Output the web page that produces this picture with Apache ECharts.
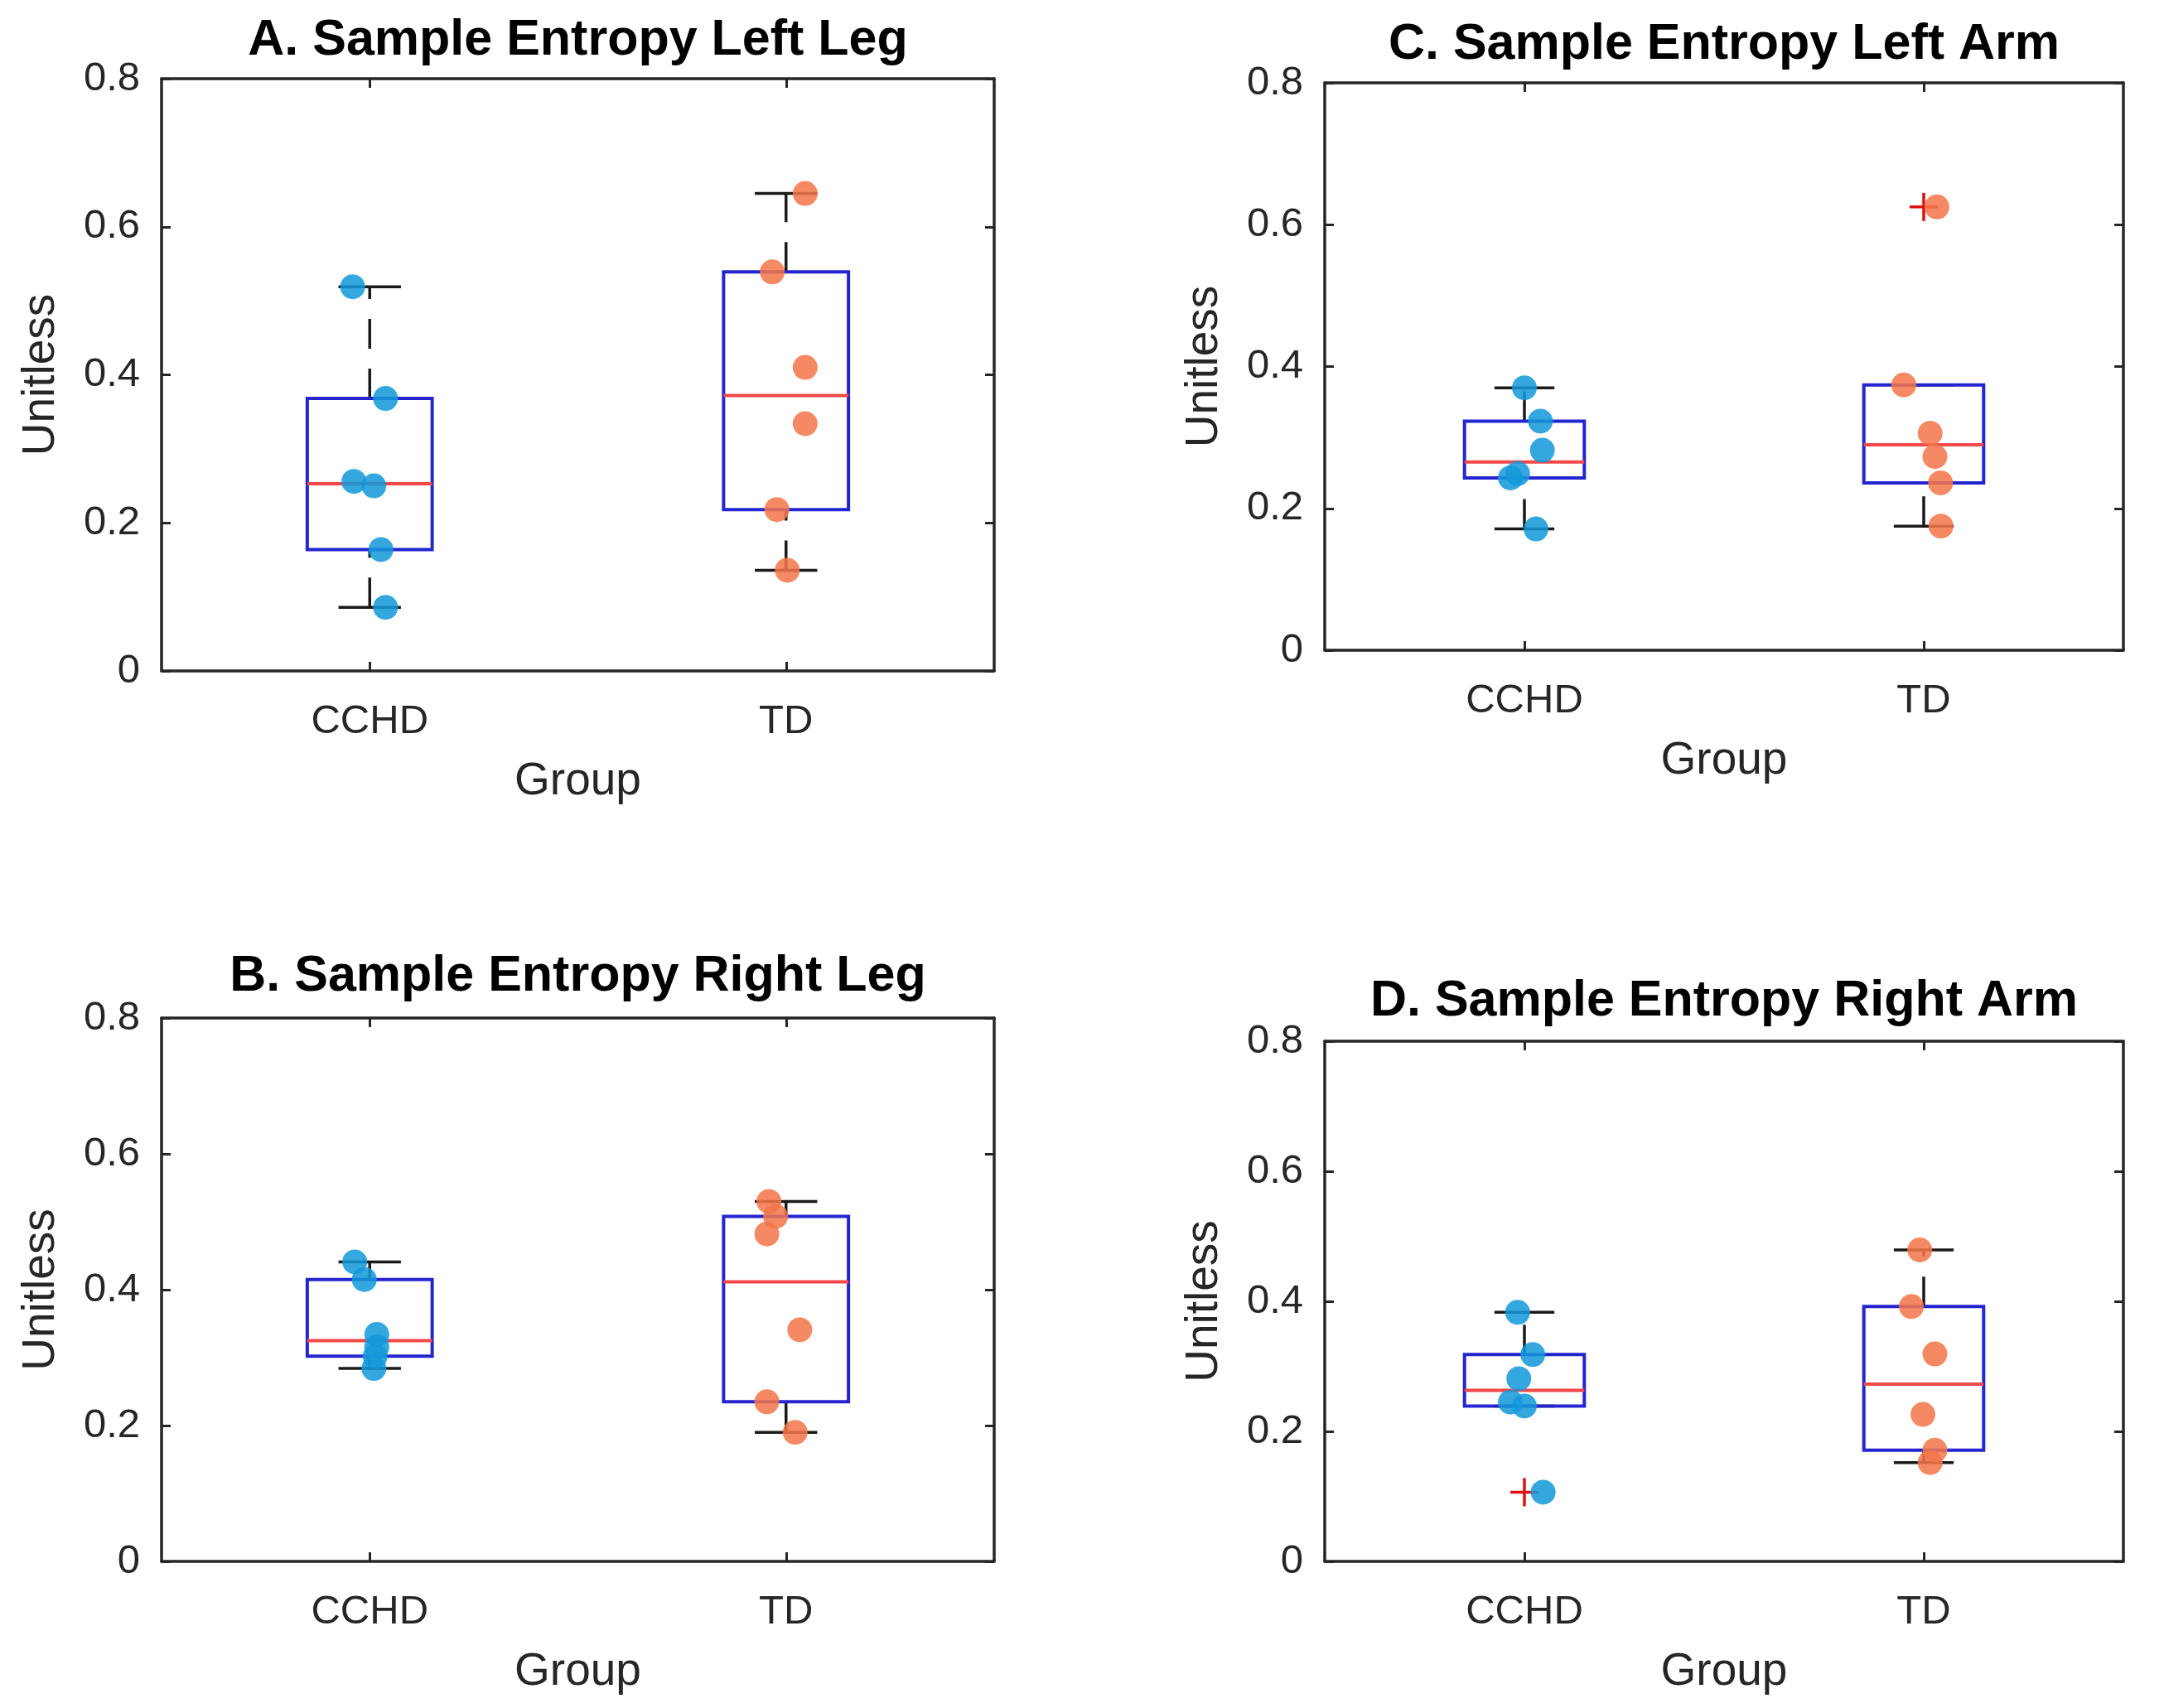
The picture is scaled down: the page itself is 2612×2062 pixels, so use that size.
<!DOCTYPE html>
<html>
<head>
<meta charset="utf-8">
<title>Sample Entropy</title>
<script src="https://cdn.jsdelivr.net/npm/echarts@6.0.0/dist/echarts.min.js"></script>
<style>
  html, body { margin: 0; padding: 0; background: #fff; }
  #chart { width: 2612px; height: 2062px; }
</style>
</head>
<body>
<div id="chart"></div>
<script>
// ---- data ----
const groups = ['CCHD', 'TD'];
const yTicks = [0, 0.2, 0.4, 0.6, 0.8];

const leftLegCCHD = [0.519, 0.368, 0.256, 0.250, 0.164, 0.086];
const leftLegCCHDJitter = [-0.041, 0.038, -0.038, 0.010, 0.027, 0.038];
const leftLegTD = [0.645, 0.539, 0.410, 0.334, 0.218, 0.136];
const leftLegTDJitter = [0.046, -0.033, 0.046, 0.046, -0.022, 0.003];

const rightLegCCHD = [0.441, 0.415, 0.334, 0.316, 0.302, 0.284];
const rightLegCCHDJitter = [-0.036, -0.013, 0.017, 0.017, 0.013, 0.010];
const rightLegTD = [0.530, 0.508, 0.482, 0.341, 0.235, 0.190];
const rightLegTDJitter = [-0.041, -0.025, -0.046, 0.033, -0.046, 0.022];

const leftArmCCHD = [0.370, 0.323, 0.282, 0.249, 0.243, 0.171];
const leftArmCCHDJitter = [0.000, 0.040, 0.045, -0.017, -0.035, 0.029];
const leftArmTD = [0.625, 0.374, 0.306, 0.273, 0.236, 0.175];
const leftArmTDJitter = [0.033, -0.050, 0.016, 0.028, 0.042, 0.043];

const rightArmCCHD = [0.383, 0.318, 0.281, 0.245, 0.239, 0.1065];
const rightArmCCHDJitter = [-0.017, 0.021, -0.014, -0.035, 0.000, 0.047];
const rightArmTD = [0.479, 0.392, 0.319, 0.226, 0.171, 0.152];
const rightArmTDJitter = [-0.010, -0.031, 0.028, -0.002, 0.028, 0.016];

// ---- layout / style ----
const FONT = '"Liberation Sans", Arial, Helvetica, sans-serif';
const TEXT = '#262626';
const BOX_W = 0.3;
const CAP_W = 0.15;
const COLORS = ['#1499da', '#f37649'];

const panels = [
  { title: 'A. Sample Entropy Left Leg', titleTop: 19,
    grid: { left: 195, top: 95, width: 1005, height: 715 },
    values: [leftLegCCHD, leftLegTD], jitter: [leftLegCCHDJitter, leftLegTDJitter] },
  { title: 'B. Sample Entropy Right Leg', titleTop: 1149,
    grid: { left: 195, top: 1229, width: 1005, height: 656 },
    values: [rightLegCCHD, rightLegTD], jitter: [rightLegCCHDJitter, rightLegTDJitter] },
  { title: 'C. Sample Entropy Left Arm', titleTop: 24,
    grid: { left: 1599, top: 100, width: 964, height: 685 },
    values: [leftArmCCHD, leftArmTD], jitter: [leftArmCCHDJitter, leftArmTDJitter] },
  { title: 'D. Sample Entropy Right Arm', titleTop: 1179,
    grid: { left: 1599, top: 1257, width: 964, height: 628 },
    values: [rightArmCCHD, rightArmTD], jitter: [rightArmCCHDJitter, rightArmTDJitter] }
];

// MATLAB-style percentile (positions (i-0.5)/n)
function quantile(sorted, p) {
  const n = sorted.length;
  const pos = n * p + 0.5;
  if (pos <= 1) return sorted[0];
  if (pos >= n) return sorted[n - 1];
  const lo = Math.floor(pos);
  return sorted[lo - 1] + (pos - lo) * (sorted[lo] - sorted[lo - 1]);
}

function boxStats(values) {
  const s = values.slice().sort((a, b) => a - b);
  const q1 = quantile(s, 0.25);
  const med = quantile(s, 0.5);
  const q3 = quantile(s, 0.75);
  const iqr = q3 - q1;
  const inside = s.filter(v => v >= q1 - 1.5 * iqr && v <= q3 + 1.5 * iqr);
  const outliers = s.filter(v => v < q1 - 1.5 * iqr || v > q3 + 1.5 * iqr);
  return { q1, med, q3, lo: inside[0], hi: inside[inside.length - 1], outliers };
}

function line(p1, p2, style) {
  return {
    type: 'line',
    shape: { x1: p1[0], y1: p1[1], x2: p2[0], y2: p2[1] },
    style: Object.assign({ fill: null }, style)
  };
}

function makeRenderer(statsList) {
  return function (params, api) {
    const x = api.value(0);
    const st = statsList[params.dataIndex];
    const hw = BOX_W / 2, cw = CAP_W / 2;
    const tl = api.coord([x - hw, st.q3]);
    const br = api.coord([x + hw, st.q1]);
    const whisker = { stroke: '#1a1a1a', lineWidth: 3.5, lineDash: [36, 24] };
    const cap = { stroke: '#1a1a1a', lineWidth: 3.5 };
    const children = [
      line(api.coord([x, st.q3]), api.coord([x, st.hi]), whisker),
      line(api.coord([x, st.lo]), api.coord([x, st.q1]), whisker),
      line(api.coord([x - cw, st.hi]), api.coord([x + cw, st.hi]), cap),
      line(api.coord([x - cw, st.lo]), api.coord([x + cw, st.lo]), cap),
      {
        type: 'rect',
        shape: { x: tl[0], y: tl[1], width: br[0] - tl[0], height: br[1] - tl[1] },
        style: { fill: 'none', stroke: '#2525d0', lineWidth: 4 }
      },
      line(api.coord([x - hw, st.med]), api.coord([x + hw, st.med]), { stroke: '#f24848', lineWidth: 4 })
    ];
    st.outliers.forEach(o => {
      const c = api.coord([x, o]);
      children.push(line([c[0] - 17, c[1]], [c[0] + 17, c[1]], { stroke: '#e01010', lineWidth: 3.5 }));
      children.push(line([c[0], c[1] - 17], [c[0], c[1] + 17], { stroke: '#e01010', lineWidth: 3.5 }));
    });
    return { type: 'group', children };
  };
}

const frameLine = { show: true, onZero: false, lineStyle: { color: TEXT, width: 3.5 } };
const tickStyle = { show: true, inside: true, length: 11, lineStyle: { color: TEXT, width: 3 } };

const option = {
  backgroundColor: '#fff',
  animation: false,
  title: [],
  grid: [],
  xAxis: [],
  yAxis: [],
  series: []
};

panels.forEach((p, i) => {
  option.grid.push(Object.assign({ containLabel: false }, p.grid));
  option.title.push({
    text: p.title,
    left: p.grid.left + p.grid.width / 2,
    top: p.titleTop,
    textAlign: 'center',
    padding: 0,
    textStyle: { fontFamily: FONT, fontSize: 61, fontWeight: 'bold', color: '#000' }
  });

  // bottom / left axes with labels, top / right axes for the box ticks
  option.xAxis.push({
    gridIndex: i, type: 'value', min: 0.5, max: 2.5, position: 'bottom',
    axisLine: frameLine,
    axisTick: Object.assign({ customValues: [1, 2] }, tickStyle),
    axisLabel: {
      customValues: [1, 2], margin: 37, fontSize: 49, fontFamily: FONT, color: TEXT,
      formatter: v => groups[Math.round(v) - 1] || ''
    },
    splitLine: { show: false },
    name: 'Group', nameLocation: 'middle', nameGap: 106,
    nameTextStyle: { fontSize: 55, fontFamily: FONT, color: TEXT }
  });
  option.xAxis.push({
    gridIndex: i, type: 'value', min: 0.5, max: 2.5, position: 'top',
    axisLine: frameLine,
    axisTick: Object.assign({ customValues: [1, 2] }, tickStyle),
    axisLabel: { show: false },
    splitLine: { show: false }
  });
  option.yAxis.push({
    gridIndex: i, type: 'value', min: yTicks[0], max: yTicks[yTicks.length - 1], interval: 0.2,
    position: 'left',
    axisLine: frameLine,
    axisTick: tickStyle,
    axisLabel: { margin: 26, fontSize: 49, fontFamily: FONT, color: TEXT },
    splitLine: { show: false },
    name: 'Unitless', nameLocation: 'middle', nameGap: 118,
    nameTextStyle: { fontSize: 55, fontFamily: FONT, color: TEXT }
  });
  option.yAxis.push({
    gridIndex: i, type: 'value', min: yTicks[0], max: yTicks[yTicks.length - 1], interval: 0.2,
    position: 'right',
    axisLine: frameLine,
    axisTick: tickStyle,
    axisLabel: { show: false },
    splitLine: { show: false }
  });

  const statsList = p.values.map(boxStats);
  option.series.push({
    type: 'custom',
    xAxisIndex: 2 * i, yAxisIndex: 2 * i,
    z: 2, clip: false,
    renderItem: makeRenderer(statsList),
    data: groups.map((g, k) => [k + 1, statsList[k].med])
  });

  p.values.forEach((vals, k) => {
    option.series.push({
      type: 'scatter',
      name: groups[k],
      xAxisIndex: 2 * i, yAxisIndex: 2 * i,
      z: 3,
      symbolSize: 30,
      itemStyle: { color: COLORS[k], opacity: 0.86 },
      data: vals.map((v, j) => [k + 1 + p.jitter[k][j], v])
    });
  });
});

const chart = echarts.init(document.getElementById('chart'));
chart.setOption(option);
</script>
</body>
</html>
